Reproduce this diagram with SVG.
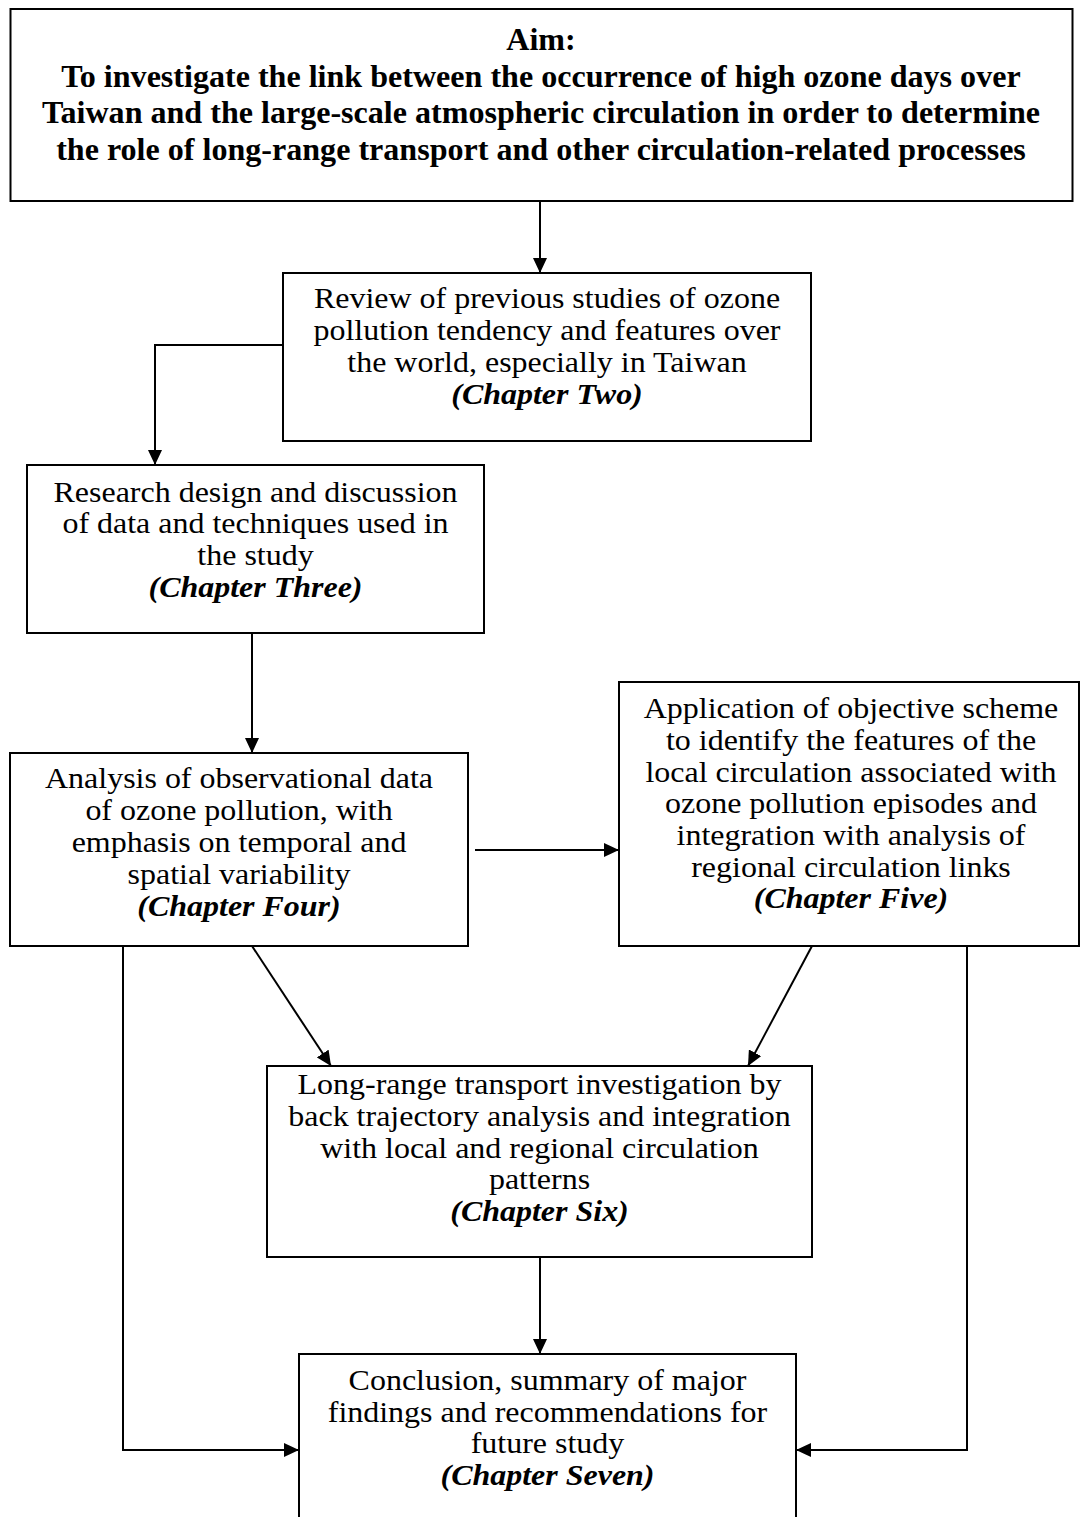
<svg xmlns="http://www.w3.org/2000/svg" width="1081" height="1517" viewBox="0 0 1081 1517">
<style>
.box{fill:#fff;stroke:#000;stroke-width:2}
.t{font-family:"Liberation Serif","Times New Roman",serif;font-size:29px;fill:#000;text-anchor:middle}
.b{font-weight:bold;font-size:31px}
.ch{font-weight:bold;font-style:italic}
.c{fill:none;stroke:#000;stroke-width:2}
</style>
<defs>
<marker id="ah" markerWidth="15" markerHeight="14" refX="15" refY="7" orient="auto" markerUnits="userSpaceOnUse">
<path d="M0,0 L15,7 L0,14 z" fill="#000"/>
</marker>
</defs>
<rect width="1081" height="1517" fill="#fff"/>
<g id="connectors">
<line class="c" x1="540" y1="201" x2="540" y2="273" marker-end="url(#ah)"/>
<polyline class="c" points="283,345 155,345 155,465" marker-end="url(#ah)"/>
<line class="c" x1="252" y1="633" x2="252" y2="753" marker-end="url(#ah)"/>
<line class="c" x1="475" y1="850" x2="619" y2="850" marker-end="url(#ah)"/>
<line class="c" x1="252" y1="946" x2="331" y2="1066" marker-end="url(#ah)"/>
<line class="c" x1="812" y1="946" x2="748" y2="1066" marker-end="url(#ah)"/>
<polyline class="c" points="123,946 123,1450 299,1450" marker-end="url(#ah)"/>
<polyline class="c" points="967,946 967,1450 796,1450" marker-end="url(#ah)"/>
<line class="c" x1="540" y1="1257" x2="540" y2="1354" marker-end="url(#ah)"/>
</g>
<g id="aim">
<rect class="box" x="10.5" y="9" width="1062" height="192"/>
<text class="t b" transform="translate(541 0) scale(1.035 1)"><tspan x="0" y="50">Aim:</tspan><tspan x="0" y="87">To investigate the link between the occurrence of high ozone days over</tspan><tspan x="0" y="123.5">Taiwan and the large-scale atmospheric circulation in order to determine</tspan><tspan x="0" y="160">the role of long-range transport and other circulation-related processes</tspan></text>
</g>
<g id="chapter2">
<rect class="box" x="283" y="273" width="528" height="168"/>
<text class="t" transform="translate(547 0) scale(1.103 1)"><tspan x="0" y="308">Review of previous studies of ozone</tspan><tspan x="0" y="340">pollution tendency and features over</tspan><tspan x="0" y="372">the world, especially in Taiwan</tspan><tspan class="ch" x="0" y="404">(Chapter Two)</tspan></text>
</g>
<g id="chapter3">
<rect class="box" x="27" y="465" width="457" height="168"/>
<text class="t" transform="translate(255.5 0) scale(1.103 1)"><tspan x="0" y="502">Research design and discussion</tspan><tspan x="0" y="533.5">of data and techniques used in</tspan><tspan x="0" y="565">the study</tspan><tspan class="ch" x="0" y="597">(Chapter Three)</tspan></text>
</g>
<g id="chapter4">
<rect class="box" x="10" y="753" width="458" height="193"/>
<text class="t" transform="translate(239 0) scale(1.103 1)"><tspan x="0" y="788">Analysis of observational data</tspan><tspan x="0" y="820">of ozone pollution, with</tspan><tspan x="0" y="852">emphasis on temporal and</tspan><tspan x="0" y="884">spatial variability</tspan><tspan class="ch" x="0" y="916">(Chapter Four)</tspan></text>
</g>
<g id="chapter5">
<rect class="box" x="619" y="682" width="460" height="264"/>
<text class="t" transform="translate(851 0) scale(1.103 1)"><tspan x="0" y="718">Application of objective scheme</tspan><tspan x="0" y="750">to identify the features of the</tspan><tspan x="0" y="782">local circulation associated with</tspan><tspan x="0" y="813">ozone pollution episodes and</tspan><tspan x="0" y="845">integration with analysis of</tspan><tspan x="0" y="877">regional circulation links</tspan><tspan class="ch" x="0" y="908">(Chapter Five)</tspan></text>
</g>
<g id="chapter6">
<rect class="box" x="267" y="1066" width="545" height="191"/>
<text class="t" transform="translate(539.5 0) scale(1.103 1)"><tspan x="0" y="1094">Long-range transport investigation by</tspan><tspan x="0" y="1126">back trajectory analysis and integration</tspan><tspan x="0" y="1158">with local and regional circulation</tspan><tspan x="0" y="1189">patterns</tspan><tspan class="ch" x="0" y="1221">(Chapter Six)</tspan></text>
</g>
<g id="chapter7">
<rect class="box" x="299" y="1354" width="497" height="180"/>
<text class="t" transform="translate(547.5 0) scale(1.103 1)"><tspan x="0" y="1390">Conclusion, summary of major</tspan><tspan x="0" y="1422">findings and recommendations for</tspan><tspan x="0" y="1453">future study</tspan><tspan class="ch" x="0" y="1485">(Chapter Seven)</tspan></text>
</g>
</svg>
